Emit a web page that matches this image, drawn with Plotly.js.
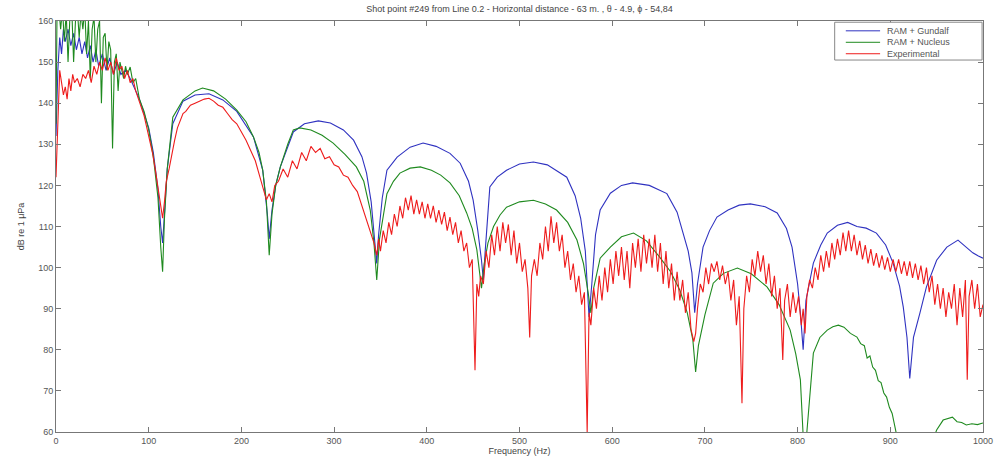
<!DOCTYPE html>
<html>
<head>
<meta charset="utf-8">
<script src="https://cdn.plot.ly/plotly-3.0.1.min.js"></script>
<style>html,body{margin:0;padding:0;background:#fff;}#chart{width:995px;height:456px;}</style>
</head>
<body>
<div id="chart"></div>
<script>
// [frequency (Hz), level (dB)] pairs
var gundalfPts = [[0,132],[2,148],[4,156],[6,152],[8,158],[10,155],[13,158],[16,154],[19,157],[22,153],[25,156],[28,152],[31,155],[34,151],[37,154],[40,150],[43,153],[46,149],[50,152],[54,148],[58,151],[62,147],[66,150],[70,147],[75,148],[80,146],[90,141],[100,134],[105,128],[110,119],[113,110],[115,106],[117,113],[120,124],[126,135],[137,140.5],[150,142],[165,142.3],[180,140.8],[195,138],[213,131.8],[223,123.7],[228,113],[230,107],[233,114],[237,120],[242,124.5],[256,133],[268,135],[283,135.7],[296,135.2],[310,133.5],[321,131],[330,127],[335,123],[340,116],[344,106],[346,101],[348,108],[352,117],[357,123.7],[368,126.9],[382,129.3],[396,130.3],[410,129.5],[425,127.8],[436,125.4],[445,121],[450,116.4],[455,109],[459,101.8],[461,97],[463,104],[468,119.6],[476,122],[486,123.7],[500,125.2],[515,125.7],[530,125],[551,122],[560,117.5],[566,112],[571,104],[575,88],[578,96],[582,108],[587,114],[598,118.1],[610,120],[622,120.6],[640,120],[659,118],[670,113.5],[676,109],[682,104],[686,98.7],[689,89],[692,96],[698,105],[705,109],[713,112.3],[725,114],[737,115.2],[749,115.5],[765,114.8],[778,113.3],[788,109.5],[794,105],[800,96],[803,89],[806,80],[809,92],[817,101.1],[825,105.5],[832,108.4],[843,110.3],[854,111],[864,110],[874,109.6],[885,108.4],[895,105.5],[903,101.1],[910,95.5],[914,90.4],[918,83],[921,73],[925,83],[932,89],[939,95.3],[950,101.8],[961,105],[973,106.7],[981,105.2],[989,103.6],[995,102.8],[1000,102.3]];

var nucleusPts = [[0,135],[1,160],[3,163],[5,158],[7,163],[9,155],[11,162],[13,150],[15,161],[17,163],[19,150],[21,160],[23,163],[25,156],[27,162],[29,158],[31,163],[33,152],[35,160],[37,146],[39,158],[41,161],[43,150],[45,158],[47,160],[49,140],[51,156],[53,157],[55,148],[57,155],[59,153],[61,129],[63,150],[65,152],[67,143],[69,150],[71,148],[73,146],[75,149],[77,147],[80,148.8],[83,145],[86,146],[90,141],[95,138],[100,133.5],[105,127],[110,117],[113,105],[115,99],[117,112],[120,124],[126,136.6],[137,140.8],[150,143],[158,143.7],[170,143],[183,141],[195,138.3],[205,135.5],[213,131.8],[219,128],[223,123.7],[227,116],[230,103],[233,113],[237,120],[242,124.5],[250,130],[256,133.5],[263,134],[275,133.5],[287,132.2],[299,130.3],[312,127.5],[324,124.5],[332,121],[339,114],[343,106],[346,97],[349,107],[353,113],[357,118],[364,121],[371,123],[382,124.2],[393,124.5],[405,123.7],[415,122.5],[425,120.6],[435,117.5],[443,113.3],[449,109.5],[454,104.3],[457,99],[459,95],[462,101],[466,106],[472,110],[479,112.8],[486,114.7],[500,116],[515,116.4],[528,115.5],[540,114],[552,111],[562,106.7],[569,101],[574,94],[577,89],[580,95],[587,102.3],[598,105],[610,107.5],[623,108.4],[637,106.5],[651,102.6],[663,99],[673,94.5],[681,89],[687,82.4],[690,74.6],[693,81],[700,88.5],[709,96.2],[720,98.6],[735,99.9],[750,98.5],[767,95.3],[780,91],[792,84.8],[798,79],[803,72.7],[806,62],[808,50],[810,60],[817,79.2],[824,83],[832,84.8],[838,85.6],[844,86],[850,85.5],[857,84],[864,83.1],[868,81.5],[872,81],[875,78],[878,78.5],[881,75.8],[884,75],[887,72.5],[890,72],[893,69.5],[896,68.5],[899,66],[902,64.5],[905,61.5],[908,58],[912,50],[930,50],[946,58],[950,60.5],[957,62.9],[962,63.3],[967,63.6],[972,62.5],[977,62.3],[982,61.7],[988,62],[994,61.8],[1000,62.2]];

var experimentalPts = [[0,122],[2,135],[4,148],[6,145],[8,142],[10,144],[12,141],[14,146],[16,143],[18,147],[20,145],[23,146],[26,144],[29,147],[32,146],[35,148],[38,145],[41,149],[44,147],[47,150],[50,148],[53,151],[56,148],[59,150],[62,147],[65,151],[68,148],[71,149],[74,146],[77,148],[80,145],[83,146],[86,143],[89,141],[92,139],[95,137],[98,134],[101,131],[104,128],[107,124],[110,119],[113,114],[115,112],[117,116],[119,121],[122,124],[125,128],[128,131],[131,134],[134,136],[137,137.5],[140,138],[145,139.5],[150,140],[155,140.5],[160,141],[165,141.2],[170,140.5],[175,139.5],[180,139],[185,137.5],[190,136],[195,135],[200,133],[205,131],[210,128.5],[215,126],[220,122],[224,119],[227,116.5],[230,118],[233,116],[236,120],[240,121],[245,124],[250,122],[255,126],[260,124],[265,128],[270,126],[275,129.5],[280,128],[285,129],[290,126.5],[295,127],[300,125],[305,124.5],[310,122.5],[315,122],[320,120],[325,118.5],[330,115],[335,112],[340,108],[343,106],[346,103],[348,107],[350,104],[353,109],[356,106],[359,111],[362,108],[365,113],[368,110],[371,115],[374,112],[377,117],[380,114],[383,117.5],[386,113],[389,116.5],[392,113],[395,116],[398,112],[401,115.5],[404,112],[407,115],[410,111],[413,114],[416,110.5],[419,113.5],[422,109],[425,112.3],[428,108],[431,111],[434,106],[437,109],[440,104],[443,106],[446,100],[449,102],[452,75],[454,96],[456,93],[458,98],[461,96],[464,104],[467,100],[470,108],[473,103],[476,110],[479,104],[482,111],[485,106],[488,110.5],[491,103],[494,109],[497,101],[500,106],[503,99],[506,102],[509,95],[511,83],[513,98],[516,102],[519,98],[522,106],[525,102],[528,110],[531,104],[534,112.5],[537,106],[540,111],[543,104],[546,108],[549,100],[552,104],[555,97],[558,101],[561,94],[564,98],[567,91],[570,94],[573,60],[575,89],[577,86],[580,95],[583,90],[586,98],[589,92],[592,100],[595,94],[598,102],[601,96],[604,104],[607,98],[610,105],[613,97],[616,104],[619,95],[622,106],[625,100],[628,107],[631,99],[634,108],[637,101],[640,107],[643,100],[646,108],[649,99],[652,106],[655,96],[658,104],[661,95],[664,101],[667,92],[670,99],[673,92],[676,97],[679,89],[682,94],[685,85],[688,82],[690,84],[692,90],[695,96],[698,94],[701,100],[704,96],[707,101],[710,99],[713,101.5],[716,97],[719,100.5],[722,96],[725,99],[728,92],[731,97],[734,86],[737,93],[740,67],[742,90],[745,98],[748,94],[751,102],[754,98],[757,104],[760,99],[763,103],[766,96],[769,101],[772,93],[775,98],[778,90],[781,95],[784,77.5],[786,92],[789,96],[792,88],[795,94],[798,89],[801,93],[804,86],[806,90],[808,84],[810,93],[813,97],[816,95],[819,100],[822,97],[825,103],[828,99],[831,104],[834,100],[837,106],[840,102],[843,107],[846,103],[849,108.5],[852,104],[855,109],[858,104],[861,108],[864,103],[867,106.5],[870,102],[873,105.5],[876,101],[879,104.5],[882,100.5],[885,103.5],[888,100],[891,103],[894,99.5],[897,102.5],[900,99],[903,102],[906,99],[909,102],[912,98.5],[915,101.5],[918,98],[921,101.5],[924,97.5],[927,101],[930,97],[933,100.5],[936,96],[939,100],[942,94],[945,98],[948,91],[951,96],[954,90],[957,95],[960,88],[963,94],[966,90],[969,96],[972,86],[975,95],[978,88],[981,97],[983,72.7],[985,93],[988,97],[991,90],[994,96],[997,88],[1000,91]];

var seriesNames = ['RAM + Gundalf', 'RAM + Nucleus', 'Experimental'];
var xTickVals = [0,100,200,300,400,500,600,700,800,900,1000];
var yTickVals = [60,70,80,90,100,110,120,130,140,150,160];

var colors = ['#2f32c0', '#1f8a1f', '#ee1c1c'];
var FONT = 'Liberation Sans, Arial, sans-serif';
var sets = [gundalfPts, nucleusPts, experimentalPts];
var traces = sets.map(function(pts, i){
  return {
    x: pts.map(function(p){return p[0];}),
    y: pts.map(function(p){return p[1];}),
    type: 'scatter', mode: 'lines', name: seriesNames[i],
    line: {color: colors[i], width: 1.1}
  };
});

// compact MATLAB-style legend drawn in paper coordinates
var legTop = 0.997, legBottom = 0.905, legLeft = 0.840, legRight = 0.999;
var shapes = [{type: 'rect', xref: 'paper', yref: 'paper', x0: legLeft, x1: legRight, y0: legBottom, y1: legTop,
  line: {color: '#888', width: 1}, fillcolor: '#fff', layer: 'above'}];
var annotations = [];
seriesNames.forEach(function(name, i){
  var yy = legTop - (legTop - legBottom) * (i + 0.75) / 3.3;
  shapes.push({type: 'line', xref: 'paper', yref: 'paper', x0: 0.852, x1: 0.889, y0: yy, y1: yy,
    line: {color: colors[i], width: 1}, layer: 'above'});
  annotations.push({xref: 'paper', yref: 'paper', x: 0.894, y: yy, xanchor: 'left', yanchor: 'middle',
    text: name, showarrow: false, font: {family: FONT, size: 9, color: '#555'}});
});

var axisCommon = {
  showgrid: false, zeroline: false, showline: true, mirror: 'ticks',
  linecolor: '#777', linewidth: 1, ticks: 'inside', ticklen: 5, tickcolor: '#777',
  tickfont: {family: FONT, size: 9, color: '#555'}
};

var layout = {
  width: 995, height: 456,
  margin: {l: 56, r: 12, t: 21, b: 24},
  paper_bgcolor: '#fff', plot_bgcolor: '#fff',
  showlegend: false,
  shapes: shapes, annotations: annotations,
  title: {text: 'Shot point #249 from Line 0.2 - Horizontal distance - 63 m. , θ - 4.9, ϕ - 54,84',
    font: {family: FONT, size: 9, color: '#444'},
    x: 0.5, xref: 'paper', y: 0.98, yanchor: 'middle'},
  xaxis: Object.assign({}, axisCommon, {
    range: [0, 1000], tickvals: xTickVals, ticktext: xTickVals.map(String),
    title: {text: 'Frequency (Hz)', standoff: 2, font: {family: FONT, size: 9, color: '#444'}}
  }),
  yaxis: Object.assign({}, axisCommon, {
    range: [60, 160], tickvals: yTickVals, ticktext: yTickVals.map(String),
    title: {text: 'dB re 1 μPa', standoff: 12, font: {family: FONT, size: 9, color: '#444'}}
  })
};

Plotly.newPlot('chart', traces, layout, {displayModeBar: false, staticPlot: true});
</script>
</body>
</html>
